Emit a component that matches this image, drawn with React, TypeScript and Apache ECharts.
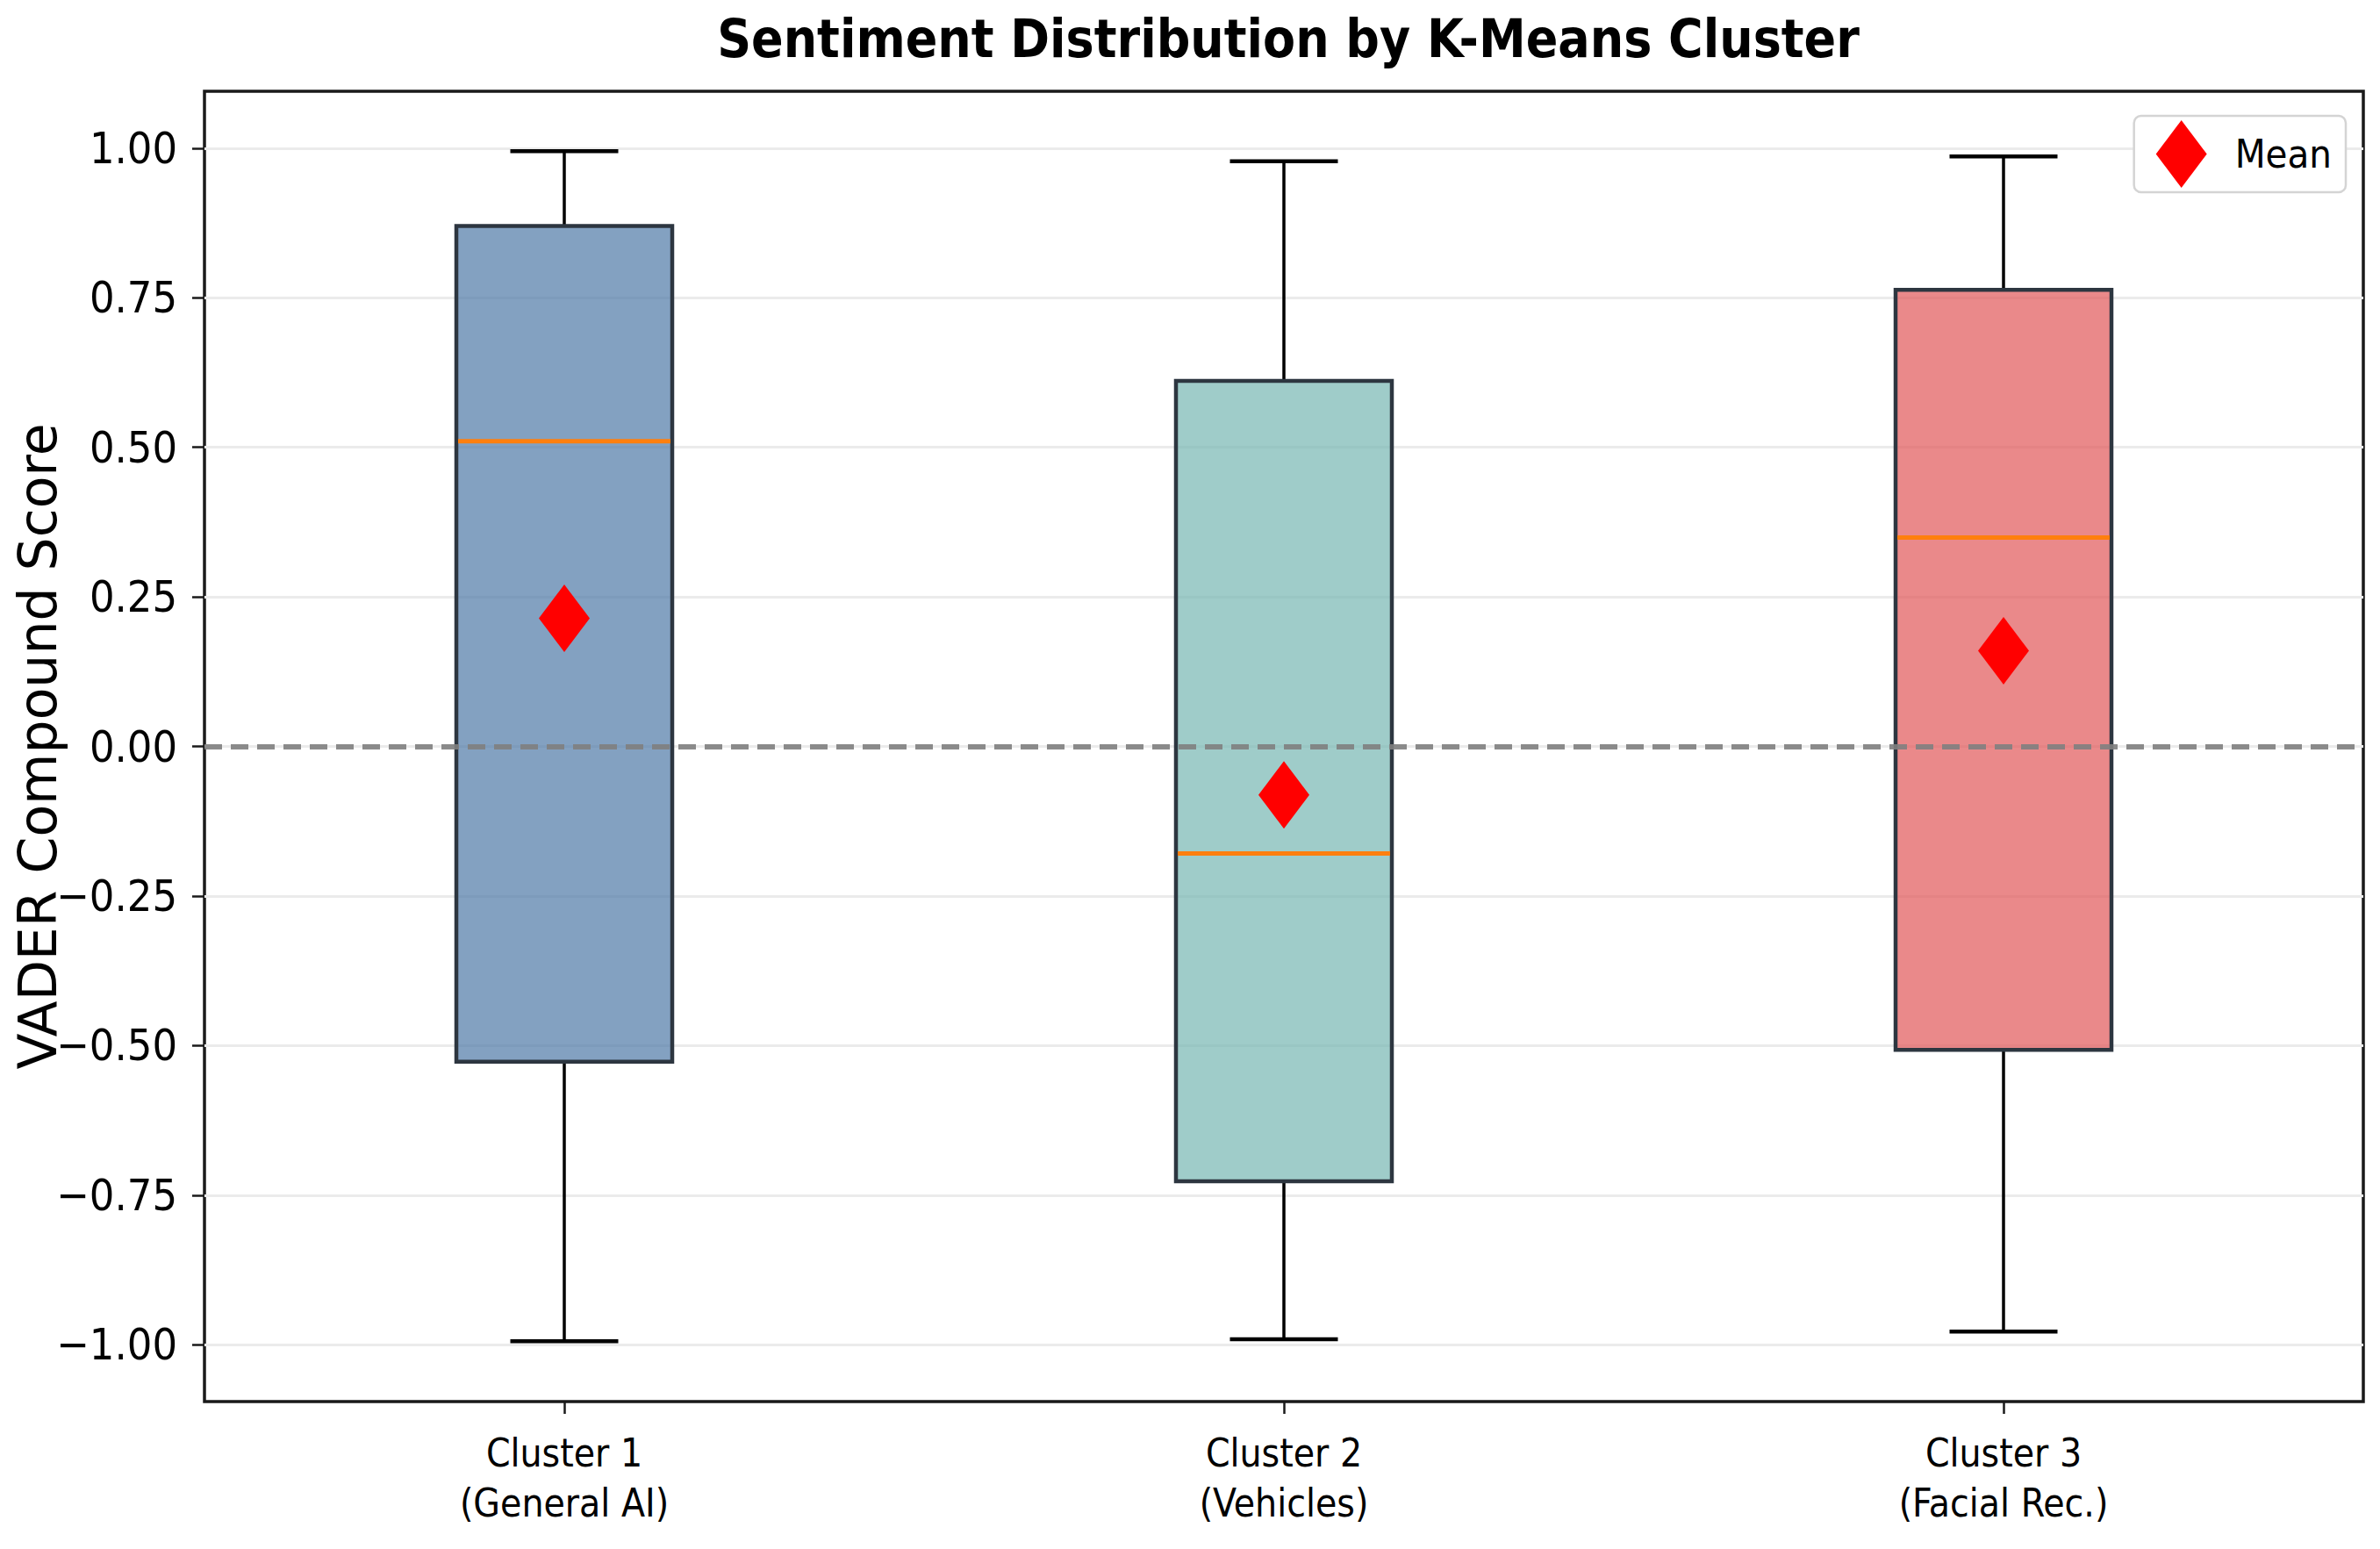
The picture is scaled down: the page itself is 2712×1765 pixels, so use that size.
import React, { useEffect, useRef } from "react";
import * as echarts from "echarts";

const categories = ["Cluster 1\n(General AI)", "Cluster 2\n(Vehicles)", "Cluster 3\n(Facial Rec.)"];
const whiskerLow = [-0.994, -0.991, -0.978];
const q1 = [-0.527, -0.727, -0.507];
const median = [0.51, -0.179, 0.349];
const q3 = [0.87, 0.611, 0.763];
const whiskerHigh = [0.995, 0.978, 0.986];
const means = [0.214, -0.081, 0.16];
const yTicks = [-1, -0.75, -0.5, -0.25, 0, 0.25, 0.5, 0.75, 1];
const boxColors = ["rgba(78,121,167,0.7)", "rgba(118,183,178,0.7)", "rgba(225,87,89,0.7)"];

const NARROW = "'Liberation Sans Narrow', 'DejaVu Sans Condensed', 'Arial Narrow', sans-serif";

function fmt(v: number) {
  const s = Math.abs(v).toFixed(2);
  return (v < -1e-9 ? "\u2212" : "") + s;
}

export default function App() {
  const ref = useRef<HTMLDivElement>(null);
  useEffect(() => {
    if (!ref.current) return;
    const chart = echarts.init(ref.current, null, { renderer: "svg" });
    const boxData = categories.map((_, i) => [i, whiskerLow[i], q1[i], median[i], q3[i], whiskerHigh[i]]);
    const option: any = {
      animation: false,
      backgroundColor: "#ffffff",
      title: {
        text: "Sentiment Distribution by K-Means Cluster",
        left: 1463,
        textAlign: "center",
        top: 9,
        textStyle: { fontFamily: NARROW, fontWeight: "bold", fontSize: 60, color: "#000" },
      },
      legend: {
        data: ["Mean"],
        right: 39,
        top: 132,
        orient: "horizontal",
        icon: "diamond",
        itemWidth: 58,
        itemHeight: 77,
        padding: [5, 16, 5, 25],
        backgroundColor: "#ffffff",
        borderColor: "#d4d4d4",
        borderWidth: 2.5,
        borderRadius: 8,
        textStyle: { fontFamily: NARROW, fontSize: 45, color: "#000", padding: [0, 0, 0, 27] },
      },
      grid: {
        left: 233,
        right: 19,
        top: 104,
        bottom: 168,
        containLabel: false,
        outerBoundsMode: "none",
        show: true,
        borderColor: "#1a1a1a",
        borderWidth: 3.5,
        backgroundColor: "transparent",
      },
      xAxis: {
        type: "category",
        data: categories,
        boundaryGap: true,
        axisLine: { show: false, onZero: false },
        axisTick: { show: true, alignWithLabel: true, length: 14, lineStyle: { color: "#1a1a1a", width: 2.5 } },
        axisLabel: { fontFamily: NARROW, fontSize: 44, color: "#000", lineHeight: 57, margin: 30 },
        splitLine: { show: false },
      },
      yAxis: {
        type: "value",
        min: -1.095,
        max: 1.095,
        name: "VADER Compound Score",
        nameLocation: "middle",
        nameGap: 160,
        nameRotate: 90,
        nameMoveOverlap: false,
        nameTextStyle: { fontFamily: "'DejaVu Sans', sans-serif", fontSize: 60, color: "#000" },
        axisLine: { show: false },
        axisTick: { show: true, length: 14, customValues: yTicks, lineStyle: { color: "#1a1a1a", width: 2.5 } },
        axisLabel: { fontFamily: NARROW, fontSize: 50, color: "#000", margin: 31, customValues: yTicks, formatter: (v: number) => fmt(v) },
        splitLine: { show: true, lineStyle: { color: "#ebebeb", width: 3 } },
      },
      series: [
        {
          name: "box",
          type: "custom",
          z: 2,
          data: boxData,
          encode: { x: 0, y: [1, 2, 3, 4, 5] },
          renderItem: (params: any, api: any) => {
            const c = api.value(0);
            const lowP = api.coord([c, api.value(1)]);
            const q1P = api.coord([c, api.value(2)]);
            const medP = api.coord([c, api.value(3)]);
            const q3P = api.coord([c, api.value(4)]);
            const highP = api.coord([c, api.value(5)]);
            const band = api.size([1, 0])[0];
            const bw = band * 0.3;
            const cw = bw / 2;
            const x = lowP[0];
            const blk = { stroke: "#000", lineWidth: 3.5 };
            return {
              type: "group",
              children: [
                { type: "line", shape: { x1: x, y1: q3P[1], x2: x, y2: highP[1] }, style: blk },
                { type: "line", shape: { x1: x, y1: q1P[1], x2: x, y2: lowP[1] }, style: blk },
                { type: "line", shape: { x1: x - cw / 2, y1: highP[1], x2: x + cw / 2, y2: highP[1] }, style: { stroke: "#000", lineWidth: 4.5 } },
                { type: "line", shape: { x1: x - cw / 2, y1: lowP[1], x2: x + cw / 2, y2: lowP[1] }, style: { stroke: "#000", lineWidth: 4.5 } },
                {
                  type: "rect",
                  shape: { x: x - bw / 2, y: q3P[1], width: bw, height: q1P[1] - q3P[1] },
                  style: { fill: boxColors[params.dataIndex], stroke: "#2d3640", lineWidth: 4.5 },
                },
                { type: "line", shape: { x1: x - bw / 2 + 2, y1: medP[1], x2: x + bw / 2 - 2, y2: medP[1] }, style: { stroke: "#ff7f0e", lineWidth: 5 } },
              ],
            };
          },
        },
        {
          name: "Mean",
          type: "scatter",
          z: 4,
          symbol: "diamond",
          symbolSize: [58, 77],
          itemStyle: { color: "#ff0000", opacity: 1 },
          data: means.map((m, i) => [i, m]),
          markLine: {
            silent: true,
            symbol: ["none", "none"],
            label: { show: false },
            lineStyle: { type: [20, 10], color: "rgba(128,128,128,0.9)", width: 6, opacity: 1 },
            data: [{ yAxis: 0 }],
          },
        },
      ],
    };
    chart.setOption(option);
    return () => chart.dispose();
  }, []);
  return <div ref={ref} style={{ position: "fixed", left: 0, top: 0, width: "2712px", height: "1765px", background: "#fff" }} />;
}
